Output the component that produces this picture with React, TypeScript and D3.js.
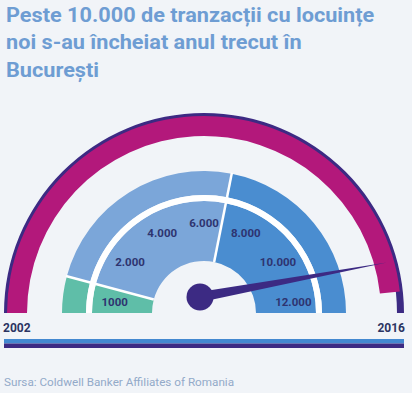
import React from "react";
import * as d3 from "d3";

const WIDTH = 412;
const HEIGHT = 393;
const CX = 204;
const CY = 313;

const TITLE_LINES = [
  "Peste 10.000 de tranzacții cu locuințe",
  "noi s-au încheiat anul trecut în",
  "București",
];
const YEARS = ["2002", "2016"];
const SOURCE = "Sursa: Coldwell Banker Affiliates of Romania";

// transaction scale of the dial
const SCALE_MAX = 12000;
const SEGMENT_ENDS = [1000, 6750, 12000];
const SEGMENT_COLORS = ["#5fbea8", "#7ba6d9", "#4a8dd0"];
const TICK_LABELS = ["1000", "2.000", "4.000", "6.000", "8.000", "10.000", "12.000"];
const NEEDLE_VALUE = 11300;
// share of the outer track filled in magenta
const GAUGE_FILL = 0.965;

const BG = "#f1f4f8";
const PURPLE = "#3c2a83";
const MAGENTA = "#b3187b";
const TEXT_DARK = "#2e3470";

const deg = (d: number) => (d * Math.PI) / 180;
// gauge angle (radians, from +x, ccw) -> d3.arc angle
const toArc = (a: number) => Math.PI / 2 - a;

const valueAngle = d3.scaleLinear().domain([0, SCALE_MAX]).range([Math.PI, 0]);
const labelAngle = d3.scalePoint<string>().domain(TICK_LABELS).range([deg(173), deg(7)]);
const fillAngle = d3.scaleLinear().domain([0, 1]).range([Math.PI, 0]);

const arc = d3.arc<any>();

function ring(r0: number, r1: number, a0: number, a1: number) {
  return arc({ innerRadius: r0, outerRadius: r1, startAngle: toArc(a0), endAngle: toArc(a1) }) as string;
}

export default function App() {
  const segStarts = [0, ...SEGMENT_ENDS.slice(0, -1)];
  const hub = { x: CX - 4, y: CY - 16 };
  const na = valueAngle(NEEDLE_VALUE);
  const len = 190;
  const tip = { x: hub.x + len * Math.cos(na), y: hub.y - len * Math.sin(na) };
  const hw = 5;
  const px = Math.sin(na) * hw;
  const py = Math.cos(na) * hw;
  const needle = d3.line()([
    [hub.x + px, hub.y + py],
    [tip.x, tip.y],
    [hub.x - px, hub.y - py],
  ]) + "Z";

  return (
    <svg width={WIDTH} height={HEIGHT} style={{ position: "absolute", left: 0, top: 0, background: BG }}
      fontFamily="Roboto, 'Noto Sans', sans-serif">
      <rect width={WIDTH} height={HEIGHT} fill={BG} />
      <g transform="translate(6,0) scale(1.058,1)">
        {TITLE_LINES.map((t, i) => (
          <text key={i} x={0} y={22 + i * 27.5} fontSize={20.5} fontWeight={700} fill="#6e9dd3">{t}</text>
        ))}
      </g>

      <g transform={`translate(${CX},${CY})`}>
        {/* outer track */}
        <path d={ring(193, 200, Math.PI, 0)} fill={PURPLE} />
        <path d={ring(177, 197, Math.PI, fillAngle(GAUGE_FILL))} fill={MAGENTA} />

        {/* segmented rings */}
        {SEGMENT_ENDS.map((end, i) => (
          <g key={i}>
            <path d={ring(118, 142, valueAngle(segStarts[i]), valueAngle(end))} fill={SEGMENT_COLORS[i]} />
            <path d={ring(52, 112, valueAngle(segStarts[i]), valueAngle(end))} fill={SEGMENT_COLORS[i]} />
          </g>
        ))}
        <path d={ring(112, 118, Math.PI, 0)} fill="#ffffff" />
        {SEGMENT_ENDS.slice(0, -1).map((v, i) => {
          const a = valueAngle(v);
          return (
            <line key={i} x1={52 * Math.cos(a)} y1={-52 * Math.sin(a)} x2={143 * Math.cos(a)} y2={-143 * Math.sin(a)}
              stroke="#ffffff" strokeWidth={2.5} />
          );
        })}

        {TICK_LABELS.map((t) => {
          const a = labelAngle(t) as number;
          const r = 90;
          return (
            <text key={t} x={r * Math.cos(a)} y={-r * Math.sin(a)} dy="0.35em" textAnchor="middle"
              fontSize={11.5} fontWeight={700} fill={TEXT_DARK}>{t}</text>
          );
        })}
      </g>

      <path d={needle} fill={PURPLE} />
      <circle cx={hub.x} cy={hub.y} r={13.5} fill={PURPLE} />

      <text x={3} y={332} fontSize={12} fontWeight={700} fill="#2b3462">{YEARS[0]}</text>
      <text x={405} y={332} textAnchor="end" fontSize={12} fontWeight={700} fill="#2b3462">{YEARS[1]}</text>

      <rect x={4} y={339} width={400} height={4.5} fill="#4388d0" />
      <rect x={4} y={343.5} width={400} height={4.5} fill={PURPLE} />

      <text x={4} y={386} fontSize={11.7} fill="#93aac9">{SOURCE}</text>
    </svg>
  );
}
